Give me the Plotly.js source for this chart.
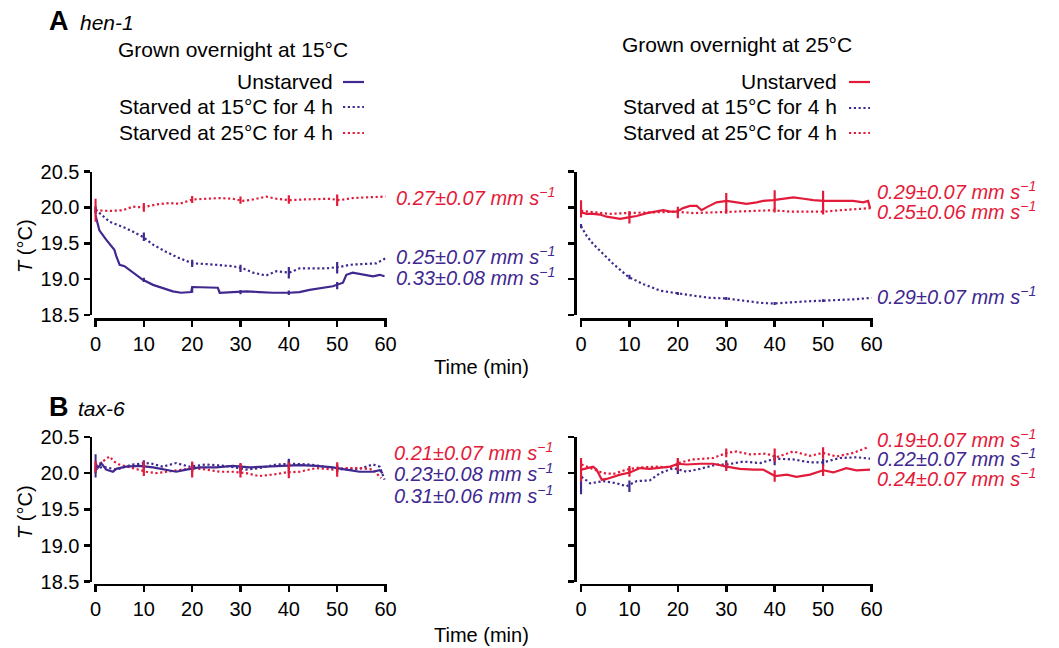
<!DOCTYPE html>
<html><head><meta charset="utf-8">
<script src="https://cdn.plot.ly/plotly-3.0.1.min.js"></script>
<style>html,body{margin:0;padding:0;background:#fff}#chart{width:1059px;height:648px}</style>
</head><body><div id="chart"></div>
<script>
// ---------- DATA (time in min, temperature in °C) ----------
// Panel A, grown at 15 °C
const tA15_unst = [0,0.8,2.2,3.9,4.3,5,6,7.7,9.8,11.9,13.9,16,17.7,19.8,20,22.9,25.3,25.7,28.4,31.2,33.9,36.7,40.1,42.2,44.3,47,49.1,51.2,51.9,53.2,55.3,57.4,58.8,59.8];
const TA15_unst = [19.89,19.68,19.55,19.41,19.32,19.20,19.18,19.09,18.99,18.92,18.88,18.83,18.81,18.82,18.89,18.88,18.88,18.81,18.82,18.83,18.82,18.81,18.81,18.82,18.85,18.88,18.90,18.95,19.06,19.09,19.06,19.04,19.06,19.04];
const tA15_s15 = [0,2.9,6.3,9.8,11.9,14.6,17.4,20.1,22.9,25.7,28.4,30.5,32.6,35.3,37.4,40.1,42.2,45,47.7,50.5,52.6,55.3,58.1,60];
const TA15_s15 = [19.97,19.80,19.71,19.59,19.48,19.38,19.29,19.22,19.21,19.20,19.18,19.15,19.09,19.05,19.11,19.09,19.15,19.15,19.15,19.17,19.20,19.21,19.22,19.29];
const tA15_s25 = [0,2.9,5.7,7.7,9.8,12.6,15.3,17.4,20.1,22.9,25.7,28.4,30.5,32.6,35.3,37.4,40.1,42.9,45.7,48.4,50.5,53.2,56,60];
const TA15_s25 = [19.96,19.95,19.96,20.01,20.00,20.04,20.06,20.05,20.11,20.12,20.13,20.12,20.09,20.11,20.15,20.12,20.10,20.11,20.12,20.12,20.10,20.13,20.14,20.15];
// Panel A, grown at 25 °C
const tA25_unst = [0,1.2,2.5,3.9,5.3,6.7,8.1,9.8,11.5,13.6,15.6,17,18.4,19.8,21.1,22.5,23.9,24.9,25.9,28,30.1,32.1,34.2,36.3,37.6,39.7,41.8,43.9,46,48,50.2,52.1,54.2,56.2,58.3,59.3,59.7];
const TA25_unst = [19.93,19.91,19.91,19.90,19.87,19.85,19.84,19.86,19.88,19.92,19.94,19.96,19.94,19.94,19.99,20.02,20.02,19.96,20.00,20.07,20.09,20.07,20.05,20.07,20.09,20.10,20.12,20.14,20.12,20.10,20.09,20.09,20.09,20.09,20.07,20.09,19.99];
const tA25_s25 = [0,2.5,6,9.4,12.9,16.3,19.8,23.2,26.6,30.1,33.5,37,39.7,43.2,46.6,50,53.5,56.9,60];
const TA25_s25 = [19.95,19.93,19.91,19.92,19.93,19.94,19.94,19.92,19.93,19.94,19.94,19.95,19.96,19.94,19.94,19.94,19.96,19.98,19.99];
const tA25_s15 = [0,1.2,2.5,4.6,6.7,9.8,12.9,16.3,19.8,23.2,26.6,30.1,33.5,37,39.7,43.2,46.6,50,53.5,56.9,60];
const TA25_s15 = [19.74,19.60,19.49,19.35,19.21,19.03,18.93,18.84,18.80,18.77,18.74,18.73,18.70,18.67,18.66,18.67,18.69,18.70,18.71,18.72,18.74];
// Panel B, grown at 15 °C
const tB15_unst = [0,0.5,1.2,2.2,3.6,4.3,6.3,9.1,11.9,14.6,16.7,18.8,21.5,25,28.4,31.9,35.3,38.8,42.2,45.7,49.1,51.9,54.6,57.4,58.8,59.4];
const TB15_unst = [20.14,20.07,20.14,20.05,20.02,20.06,20.09,20.10,20.08,20.05,20.02,20.05,20.08,20.08,20.10,20.08,20.09,20.10,20.11,20.10,20.08,20.05,20.02,20.02,20.04,20.00];
const tB15_s25 = [0,1.5,2.9,3.9,4.9,7.7,10.5,12.6,14.6,17.4,20.1,22.9,25.7,28.4,31.2,33.8,36.7,39.4,42.2,45.7,49.1,51.9,54.6,57.4,59.1];
const TB15_s25 = [20.09,20.16,20.23,20.16,20.12,20.07,20.02,20.00,20.02,20.05,20.07,20.05,20.02,20.02,20.00,19.96,19.98,20.01,20.02,20.07,20.05,20.07,20.07,20.05,19.93];
const tB15_s15 = [0,1.5,4.3,7.7,11.2,13.9,16.7,19.4,22.9,27,31.2,33.9,37.4,40.8,44.3,47.7,51.2,54.6,57.4,58.8,59.8];
const TB15_s15 = [20.05,20.09,20.05,20.12,20.14,20.09,20.14,20.09,20.12,20.10,20.05,20.07,20.12,20.13,20.12,20.09,20.05,20.06,20.12,20.09,19.91];
// Panel B, grown at 25 °C
const tB25_unst = [0.1,1.2,2.5,3.2,4.3,5.3,6.7,8.1,10.1,12.2,14.2,16.3,18.4,20.1,21.8,24.6,27.3,30.1,32.8,35.6,37.6,40.1,42.5,44.5,47.3,50,52.1,54.8,56.9,59.7];
const TB25_unst = [20.05,20.07,20.09,20.05,19.91,19.92,19.95,19.98,20.01,20.07,20.06,20.08,20.09,20.13,20.12,20.13,20.13,20.09,20.06,20.05,20.05,19.96,19.98,19.95,19.98,20.04,20.01,20.07,20.04,20.05];
const tB25_s25 = [0.1,1.9,4.6,6.7,9.4,12.2,15.6,18.4,20.6,23.2,27.3,30.1,32.1,34.9,38.3,40.4,43.8,47.3,50,52.8,56.2,59.3];
const TB25_s25 = [20.12,20.07,20.00,19.99,20.05,20.08,20.09,20.08,20.15,20.19,20.21,20.28,20.30,20.26,20.27,20.22,20.30,20.24,20.28,20.23,20.28,20.36];
const tB25_s15 = [0.1,1.9,4.6,7.4,9.4,11.5,14.2,16.3,19.1,21.8,24.6,28,30.1,33.5,37,40.1,43.8,47.3,50,53.5,56.9,59.7];
const TB25_s15 = [19.95,19.86,19.89,19.86,19.82,19.89,19.90,20.00,20.07,20.02,20.06,20.12,20.12,20.16,20.14,20.20,20.19,20.15,20.15,20.21,20.22,20.20];

// Error bars (SEM) every 10 min
const tErr = [0,10,20,30,40,50];
const mA15_unst = [19.95,18.99,18.85,18.82,18.81,18.91], eA15_unst = [0.05,0.03,0.04,0.03,0.03,0.05];
const mA15_s15  = [19.97,19.59,19.22,19.15,19.09,19.16], eA15_s15  = [0.05,0.06,0.05,0.05,0.08,0.08];
const mA15_s25  = [19.96,20.00,20.11,20.10,20.11,20.10], eA15_s25  = [0.16,0.06,0.05,0.05,0.06,0.08];
const mA25_unst = [19.98,19.85,19.93,20.07,20.11,20.09], eA25_unst = [0.12,0.075,0.08,0.13,0.13,0.14];
const mA25_s25  = [19.95,19.92,19.94,19.94,19.96,19.94], eA25_s25  = [0.04,0.03,0.03,0.03,0.03,0.04];
const mA25_s15  = [19.74,19.03,18.80,18.73,18.66,18.70], eA25_s15  = [0.03,0.03,0.02,0.02,0.02,0.02];
const mB15_unst = [20.10,20.10,20.06,20.08,20.10,20.07], eB15_unst = [0.16,0.06,0.05,0.05,0.10,0.05];
const mB15_s15  = [20.05,20.13,20.09,20.05,20.13,20.06], eB15_s15  = [0.05,0.05,0.05,0.05,0.05,0.05];
const mB15_s25  = [20.09,20.06,20.05,20.04,20.04,20.05], eB15_s25  = [0.08,0.10,0.11,0.10,0.11,0.10];
const mB25_unst = [20.05,20.01,20.11,20.09,19.96,20.04], eB25_unst = [0.16,0.06,0.08,0.06,0.08,0.08];
const mB25_s25  = [20.12,20.05,20.15,20.28,20.25,20.28], eB25_s25  = [0.05,0.05,0.06,0.06,0.09,0.08];
const mB25_s15  = [19.85,19.82,20.07,20.12,20.18,20.15], eB25_s15  = [0.14,0.08,0.08,0.06,0.07,0.05];

// Labels
const legendLabels = ['Unstarved','Starved at 15°C for 4 h','Starved at 25°C for 4 h'];
const groupTitles = ['Grown overnight at 15°C','Grown overnight at 25°C'];
const velA15 = ['0.27±0.07','0.25±0.07','0.33±0.08'];
const velA25 = ['0.29±0.07','0.25±0.06','0.29±0.07'];
const velB15 = ['0.21±0.07','0.23±0.08','0.31±0.06'];
const velB25 = ['0.19±0.07','0.22±0.07','0.24±0.07'];
const xTicks = [0,10,20,30,40,50,60];
const yTicks = [18.5,19.0,19.5,20.0,20.5];

// ---------- STYLE ----------
const BLUE = '#40288f', RED = '#e31b3a';
const W = 1059, H = 648;
const FONT = 'Liberation Sans, Arial, Helvetica, sans-serif';
const px = v => v / W, py = v => 1 - v / H;

function line(t, T, color, dash, xa, ya) {
  return {x: t, y: T, xaxis: xa, yaxis: ya, type: 'scatter', mode: 'lines',
    line: {color: color, width: 2.2, dash: dash}, hoverinfo: 'skip', showlegend: false};
}
function err(m, e, color, xa, ya) {
  return {x: tErr, y: m, xaxis: xa, yaxis: ya, type: 'scatter', mode: 'markers',
    marker: {size: 1, color: color, opacity: 0},
    error_y: {type: 'data', array: e, visible: true, color: color, thickness: 2.2, width: 0},
    hoverinfo: 'skip', showlegend: false, cliponaxis: false};
}
const DOT = '2.2px,2.6px';

const data = [
  line(tA15_s15, TA15_s15, BLUE, DOT, 'x', 'y'),
  line(tA15_s25, TA15_s25, RED, DOT, 'x', 'y'),
  line(tA15_unst, TA15_unst, BLUE, 'solid', 'x', 'y'),
  err(mA15_s15, eA15_s15, BLUE, 'x', 'y'),
  err(mA15_unst, eA15_unst, BLUE, 'x', 'y'),
  err(mA15_s25, eA15_s25, RED, 'x', 'y'),

  line(tA25_s15, TA25_s15, BLUE, DOT, 'x2', 'y2'),
  line(tA25_s25, TA25_s25, RED, DOT, 'x2', 'y2'),
  line(tA25_unst, TA25_unst, RED, 'solid', 'x2', 'y2'),
  err(mA25_s15, eA25_s15, BLUE, 'x2', 'y2'),
  err(mA25_s25, eA25_s25, RED, 'x2', 'y2'),
  err(mA25_unst, eA25_unst, RED, 'x2', 'y2'),

  line(tB15_s15, TB15_s15, BLUE, DOT, 'x3', 'y3'),
  line(tB15_s25, TB15_s25, RED, DOT, 'x3', 'y3'),
  line(tB15_unst, TB15_unst, BLUE, 'solid', 'x3', 'y3'),
  err(mB15_s15, eB15_s15, BLUE, 'x3', 'y3'),
  err(mB15_unst, eB15_unst, BLUE, 'x3', 'y3'),
  err(mB15_s25, eB15_s25, RED, 'x3', 'y3'),

  line(tB25_s15, TB25_s15, BLUE, DOT, 'x4', 'y4'),
  line(tB25_s25, TB25_s25, RED, DOT, 'x4', 'y4'),
  line(tB25_unst, TB25_unst, RED, 'solid', 'x4', 'y4'),
  err(mB25_s15, eB25_s15, BLUE, 'x4', 'y4'),
  err(mB25_s25, eB25_s25, RED, 'x4', 'y4'),
  err(mB25_unst, eB25_unst, RED, 'x4', 'y4'),
];

const tickFont = {family: FONT, size: 20, color: '#000'};
function xax(x0, x1, ypos) {
  const d = 1.21; // 0.25 min padding in px
  return {domain: [px(x0 - d), px(x1 + d)], range: [-0.25, 60.25], anchor: 'free', position: py(ypos),
    showline: true, linecolor: '#000', linewidth: 2.6, ticks: 'outside', ticklen: 6, tickwidth: 2.6,
    tickcolor: '#000', tickvals: xTicks, showgrid: false, zeroline: false, tickfont: tickFont, fixedrange: true};
}
function yax(y0, y1, xpos, labels) {
  return {domain: [py(y1), py(y0)], range: [18.5, 20.5], anchor: 'free', position: px(xpos),
    showline: true, linecolor: '#000', linewidth: 2.6, ticks: 'outside', ticklen: 6, tickwidth: 2.6,
    tickcolor: '#000', tickvals: yTicks, tickformat: '.1f', showticklabels: labels,
    showgrid: false, zeroline: false, tickfont: tickFont, fixedrange: true};
}

const ann = [];
function txt(text, x, y, opts) {
  ann.push(Object.assign({text: text, x: px(x), y: py(y), xref: 'paper', yref: 'paper', showarrow: false,
    xanchor: 'left', yanchor: 'middle', font: {family: FONT, size: 20, color: '#000'}}, opts || {}));
}
// Panel labels
txt('<b>A</b>', 47, 21, {font: {family: FONT, size: 27, color: '#000'}});
txt('<i>hen-1</i>', 78, 22, {font: {family: FONT, size: 21, color: '#000'}});
txt('<b>B</b>', 47, 407, {font: {family: FONT, size: 27, color: '#000'}});
txt('<i>tax-6</i>', 76, 408, {font: {family: FONT, size: 21, color: '#000'}});
// Legend blocks
txt(groupTitles[0], 116, 49, {font: {family: FONT, size: 21, color: '#000'}});
txt(groupTitles[1], 620, 45, {font: {family: FONT, size: 21, color: '#000'}});
const rowsY = [81, 107, 132];
rowsY.forEach((y, i) => {
  txt(legendLabels[i], 335, y, {xanchor: 'right', font: {family: FONT, size: 21, color: '#000'}});
  txt(legendLabels[i], 839, y, {xanchor: 'right', font: {family: FONT, size: 21, color: '#000'}});
});
// Axis titles
[367, 635].forEach(y => txt('Time (min)', 481, y, {xanchor: 'center'}));
txt('<i>T</i> (°C)', 25, 246, {xanchor: 'center', textangle: -90});
txt('<i>T</i> (°C)', 25, 512, {xanchor: 'center', textangle: -90});
// Velocity labels
function vel(arr, colors, x, ys) {
  arr.forEach((v, i) => txt('<i>' + v + ' mm s<sup>−1</sup></i>', x, ys[i],
    {font: {family: FONT, size: 20, color: colors[i]}}));
}
vel(velA15, [RED, BLUE, BLUE], 394, [196, 255, 276]);
vel(velA25, [RED, RED, BLUE], 875, [191, 210, 295]);
vel(velB15, [RED, BLUE, BLUE], 392, [451, 472, 494]);
vel(velB25, [RED, BLUE, RED], 875, [438, 457, 477]);

// Legend line samples (decoration)
const shapes = [];
function sample(x0, x1, y, color, dash) {
  shapes.push({type: 'line', xref: 'paper', yref: 'paper', x0: px(x0), x1: px(x1), y0: py(y), y1: py(y),
    line: {color: color, width: 2.2, dash: dash}});
}
sample(343, 364, 82, BLUE, 'solid'); sample(343, 364, 107, BLUE, DOT); sample(343, 364, 133, RED, DOT);
sample(849, 870, 82, RED, 'solid'); sample(849, 870, 108, BLUE, DOT); sample(849, 870, 133, RED, DOT);

const layout = {
  width: W, height: H, margin: {l: 0, r: 0, t: 0, b: 0},
  paper_bgcolor: '#fff', plot_bgcolor: 'rgba(0,0,0,0)', showlegend: false,
  font: {family: FONT, color: '#000'},
  xaxis: xax(95.5, 385.5, 319),
  yaxis: yax(171.5, 315, 90.5, true),
  xaxis2: xax(581, 871.5, 319),
  yaxis2: yax(171.5, 315, 575, false),
  xaxis3: xax(95.5, 385.5, 584.5),
  yaxis3: yax(437, 581.7, 90.5, true),
  xaxis4: xax(581, 871.5, 584.5),
  yaxis4: yax(437, 581.7, 575, false),
  annotations: ann, shapes: shapes
};
Plotly.newPlot('chart', data, layout, {displayModeBar: false, staticPlot: true});
</script></body></html>
